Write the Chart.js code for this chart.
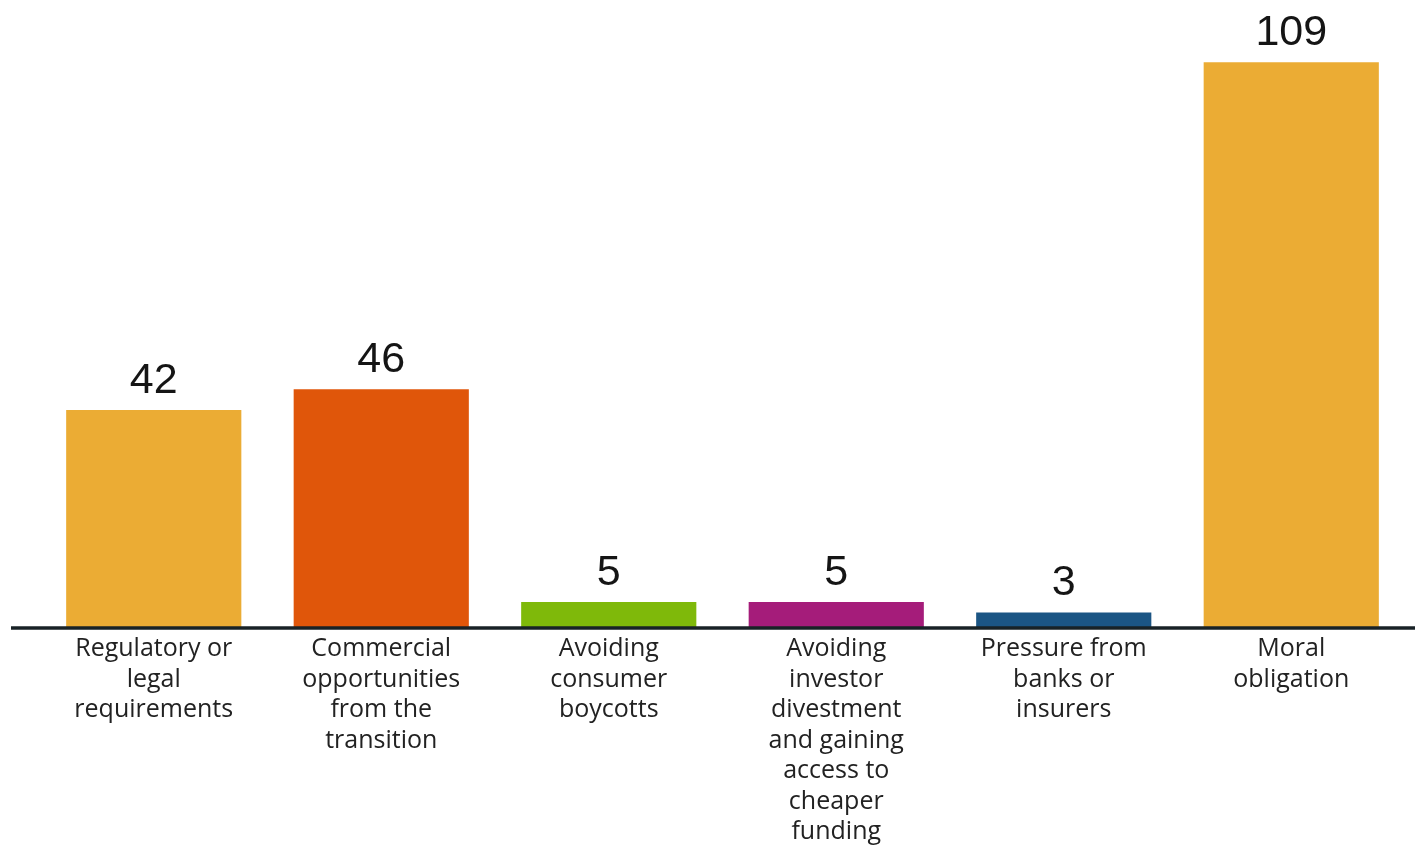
<!DOCTYPE html>
<html>
<head>
<meta charset="utf-8">
<script src="https://cdn.jsdelivr.net/npm/chart.js@4.4.1/dist/chart.umd.min.js"></script>
<style>
  html, body { margin: 0; padding: 0; background: #fff; }
  #wrap { position: relative; width: 1415px; height: 846px; }
</style>
</head>
<body>
<div id="wrap"><canvas id="chart"></canvas></div>
<script>
const categories = [
    ['Regulatory or', 'legal', 'requirements'],
    ['Commercial', 'opportunities', 'from the', 'transition'],
    ['Avoiding', 'consumer', 'boycotts'],
    ['Avoiding', 'investor', 'divestment', 'and gaining', 'access to', 'cheaper', 'funding'],
    ['Pressure from', 'banks or', 'insurers'],
    ['Moral', 'obligation'],
];
const values = [42, 46, 5, 5, 3, 109];
const barColors = ['#ebac34', '#e0560a', '#7fb90a', '#a51c7a', '#1b5584', '#ebac34'];

// baseline across the whole width + numbers above the bars
const barExtras = {
    id: 'barExtras',
    afterDatasetsDraw(chart) {
        const ctx = chart.ctx;
        const y0 = chart.scales.y.getPixelForValue(0);
        ctx.save();
        ctx.strokeStyle = '#182226';
        ctx.lineWidth = 3.5;
        ctx.beginPath();
        ctx.moveTo(11, y0);
        ctx.lineTo(chart.width, y0);
        ctx.stroke();

        ctx.fillStyle = '#151515';
        ctx.font = '43px "Liberation Sans", Arial, sans-serif';
        ctx.textAlign = 'center';
        ctx.textBaseline = 'alphabetic';
        chart.getDatasetMeta(0).data.forEach((bar, i) => {
            ctx.fillText(values[i], bar.x, bar.y - 17);
        });
        ctx.restore();
    }
};

new Chart(document.getElementById('chart'), {
    type: 'bar',
    data: {
        labels: categories,
        datasets: [{
            data: values,
            backgroundColor: barColors,
            borderWidth: 0,
            barPercentage: 0.77,
            categoryPercentage: 1,
        }],
    },
    options: {
        responsive: true,
        maintainAspectRatio: false,
        animation: false,
        layout: { padding: { left: 40, right: 10, top: 0, bottom: -7.5 } },
        scales: {
            x: {
                grid: { display: false, drawTicks: false },
                border: { display: false },
                ticks: {
                    color: '#222',
                    font: { family: '"Open Sans", sans-serif', size: 25, lineHeight: 1.22 },
                    padding: 6,
                    maxRotation: 0,
                    autoSkip: false,
                },
            },
            y: {
                display: false,
                min: 0,
                max: 121,
            },
        },
        plugins: {
            legend: { display: false },
            tooltip: { enabled: false },
        },
    },
    plugins: [barExtras],
});
</script>
</body>
</html>
